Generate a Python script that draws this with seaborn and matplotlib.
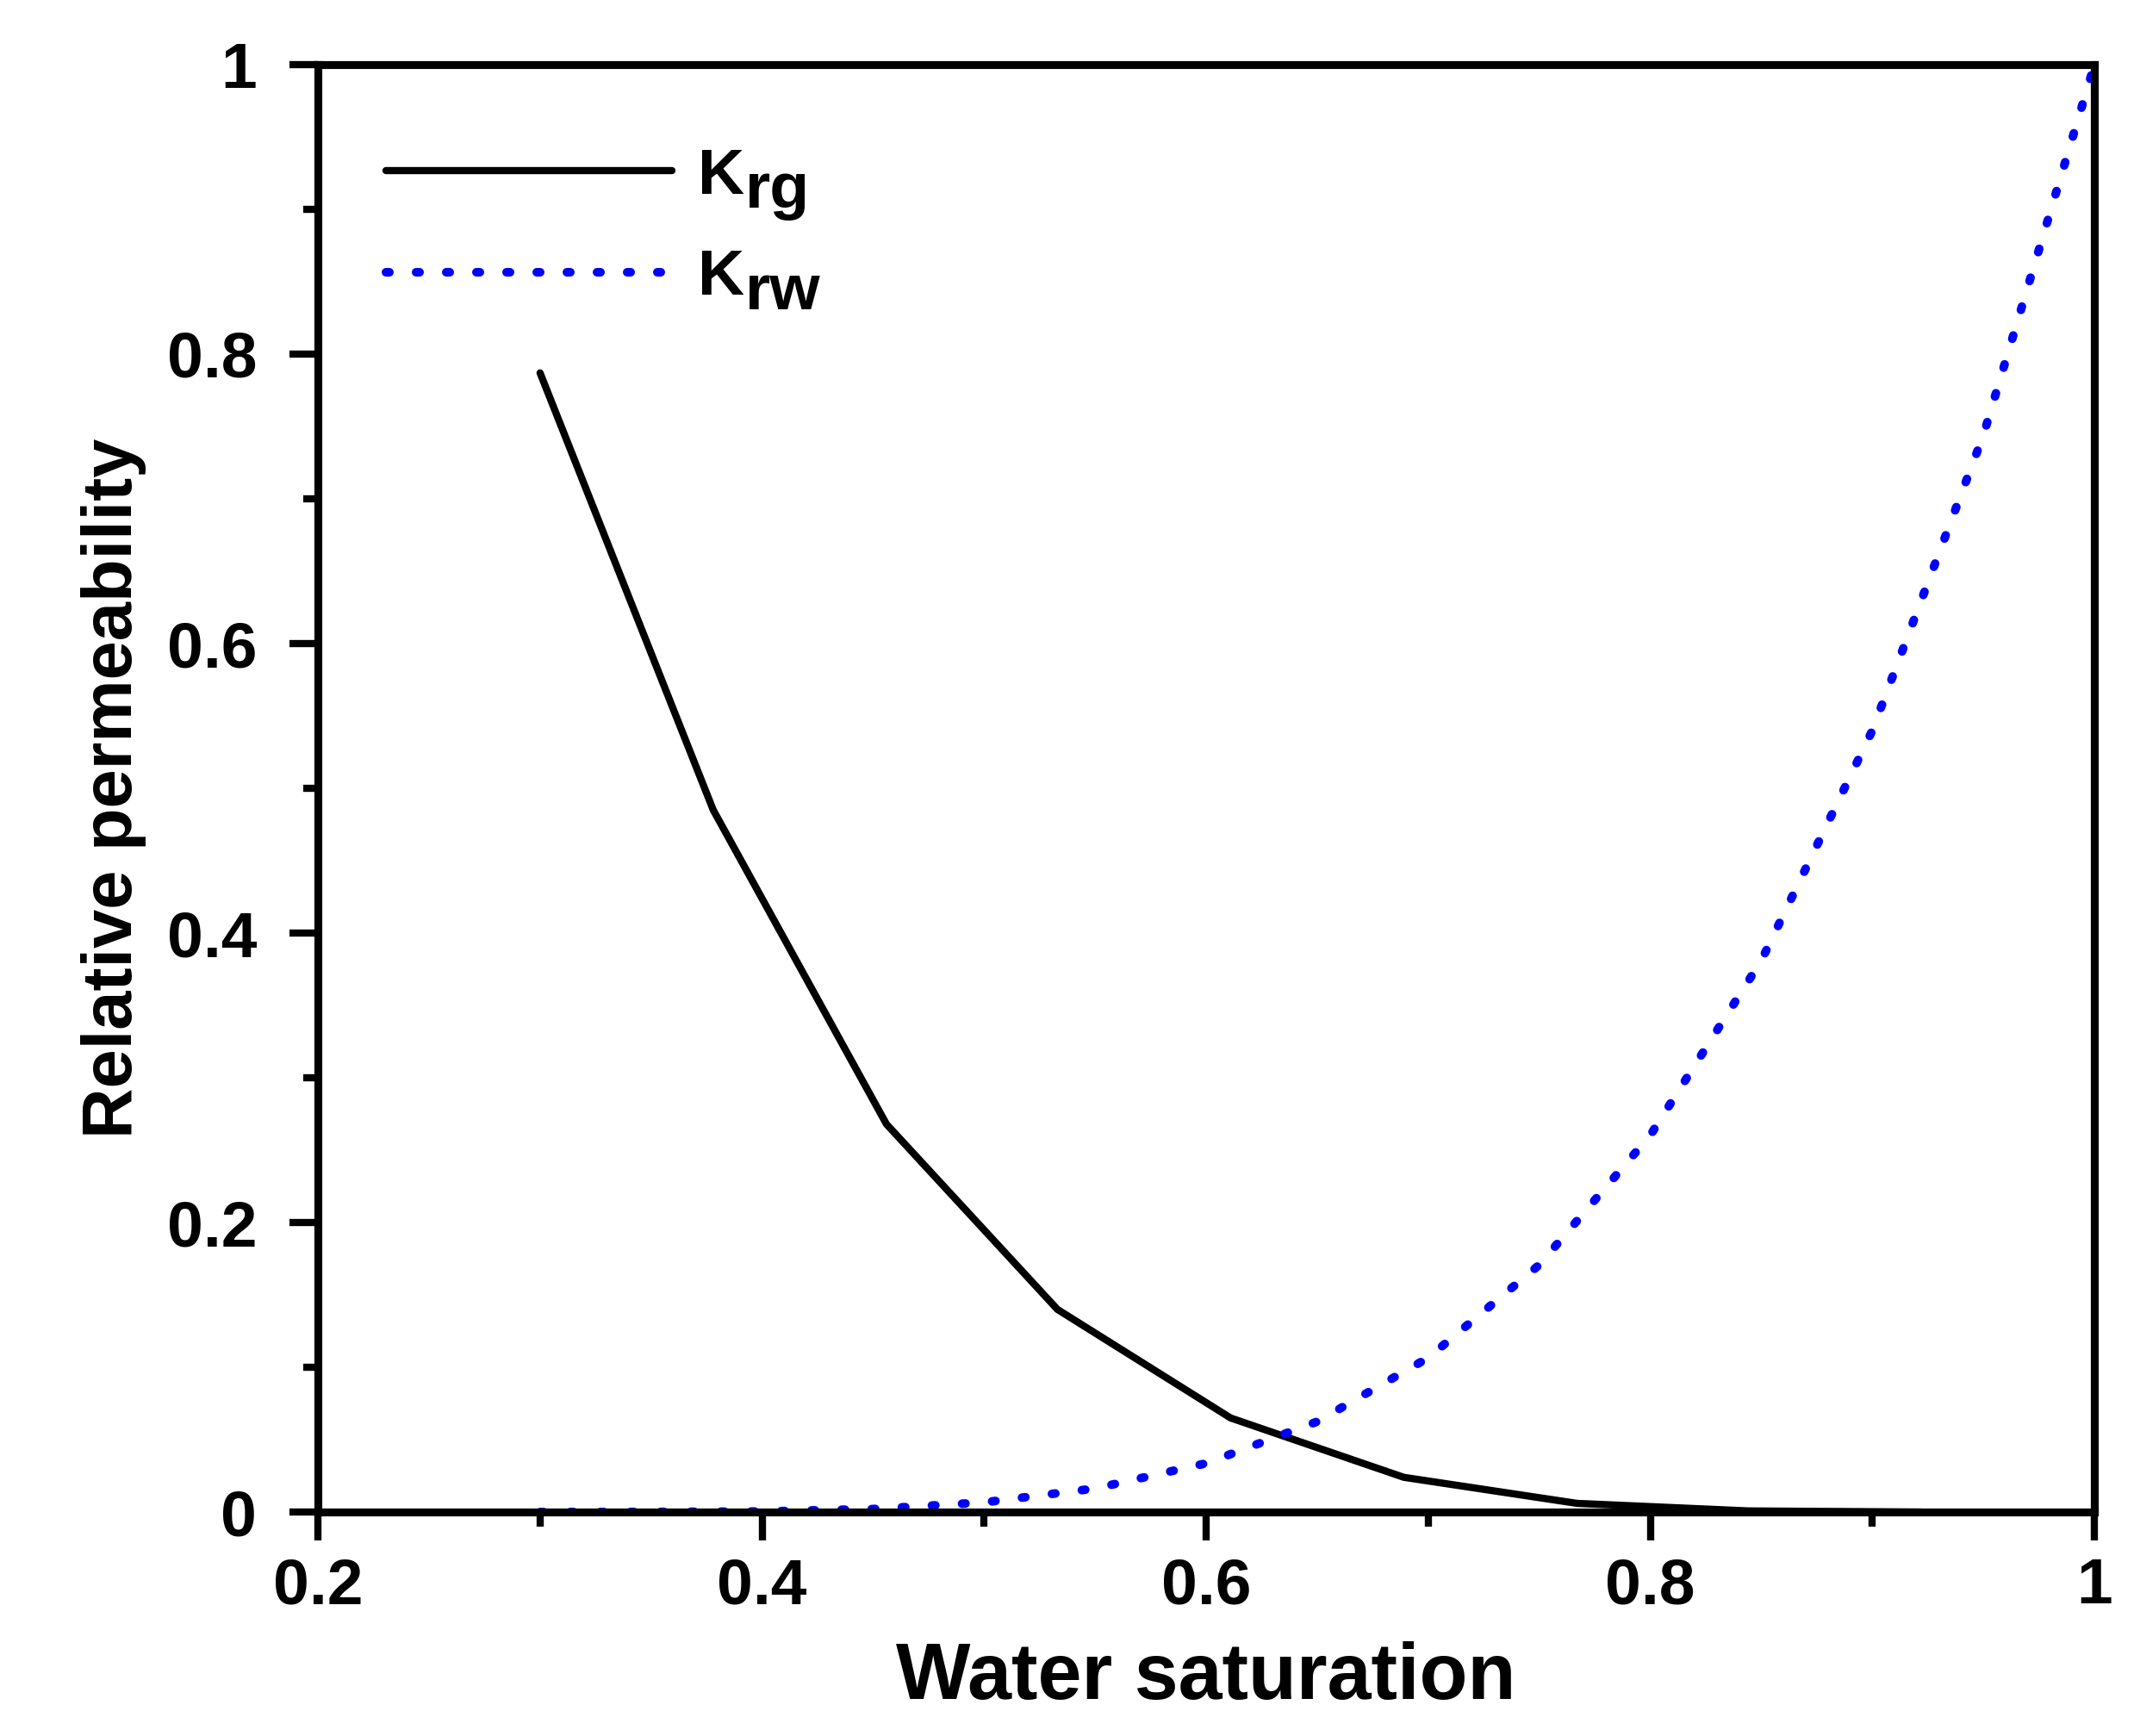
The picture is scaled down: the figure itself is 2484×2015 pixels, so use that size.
import matplotlib
matplotlib.use("Agg")
import matplotlib.pyplot as plt
import matplotlib.ticker as ticker
import pandas as pd
import seaborn as sns

# gas relative permeability
sw_gas = [0.300, 0.378, 0.456, 0.533, 0.611, 0.689, 0.767, 0.844, 0.922]
krg = [0.787, 0.485, 0.268, 0.140, 0.065, 0.024, 0.006, 0.0008, 0.0]

# water relative permeability
sw_water = [0.30, 0.35, 0.40, 0.45, 0.50, 0.55, 0.60, 0.65, 0.70, 0.75,
            0.80, 0.85, 0.90, 0.95, 1.00]
krw = [0.0, 0.0001, 0.0004, 0.0021, 0.0067, 0.0163, 0.0337, 0.0625, 0.1066,
       0.1708, 0.2603, 0.381, 0.540, 0.744, 1.0]

x_ticks = [0.2, 0.4, 0.6, 0.8, 1.0]
y_ticks = [0.0, 0.2, 0.4, 0.6, 0.8, 1.0]
legend_main = ["K", "K"]
legend_sub = ["rg", "rw"]

sns.set_style("ticks")
plt.rcParams["font.family"] = ["Liberation Sans", "DejaVu Sans"]
plt.rcParams["font.weight"] = "bold"
for key in ["text.color", "axes.labelcolor", "xtick.color", "ytick.color",
            "axes.edgecolor"]:
    plt.rcParams[key] = "black"

df_gas = pd.DataFrame({"sw": sw_gas, "kr": krg})
df_water = pd.DataFrame({"sw": sw_water, "kr": krw})

fig = plt.figure(figsize=(8.28, 6.7167), dpi=300)
ax = fig.add_axes([0.1486, 0.129, 0.8301, 0.8338])

sns.lineplot(data=df_gas, x="sw", y="kr", ax=ax, color="black",
             linewidth=2.0, label="K")
sns.lineplot(data=df_water, x="sw", y="kr", ax=ax, color="#0000FF",
             linewidth=2.4, linestyle=(0, (0.4, 3.1)),
             dash_capstyle="round", label="K")

ax.set_xlim(0.2, 1.0)
ax.set_ylim(0.0, 1.0)
ax.set_xticks(x_ticks)
ax.set_yticks(y_ticks)
ax.xaxis.set_minor_locator(ticker.MultipleLocator(0.1))
ax.yaxis.set_minor_locator(ticker.MultipleLocator(0.1))
fmt = ticker.FuncFormatter(lambda v, p: f"{v:g}")
ax.xaxis.set_major_formatter(fmt)
ax.yaxis.set_major_formatter(fmt)

ax.tick_params(which="major", direction="out", length=8, width=2.0,
               labelsize=18, top=False, right=False)
ax.tick_params(axis="x", which="major", pad=4.5)
ax.tick_params(axis="y", which="major", pad=9)
ax.tick_params(which="minor", direction="out", length=4, width=2.0,
               top=False, right=False)
for lab in ax.get_xticklabels() + ax.get_yticklabels():
    lab.set_fontweight("bold")

for s in ax.spines.values():
    s.set_visible(True)
    s.set_linewidth(2.2)
    s.set_color("black")

ax.set_xlabel("Water saturation", fontsize=22, fontweight="bold")
ax.xaxis.set_label_coords(0.5, -0.089)
ax.xaxis.label.set_va("top")
ax.set_ylabel("Relative permeability", fontsize=19.5, fontweight="bold")
ax.yaxis.set_label_coords(-0.0965, 0.5)

handles, _ = ax.get_legend_handles_labels()
leg = ax.legend(handles, legend_main, loc="upper left",
                bbox_to_anchor=(0.0383, 0.943), borderaxespad=0,
                borderpad=0, frameon=False, handlelength=4.43,
                handletextpad=0.4, labelspacing=0.65,
                prop={"size": 18, "weight": "bold"})

# subscripts drawn right after each legend "K", slightly lowered
for txt, sub in zip(leg.get_texts(), legend_sub):
    ax.annotate(sub, xy=(1.0, 0.0), xycoords=txt, xytext=(0, -4),
                textcoords="offset points", ha="left", va="bottom",
                fontsize=18, fontweight="bold", zorder=10)

fig.savefig("out.png", dpi=300)
